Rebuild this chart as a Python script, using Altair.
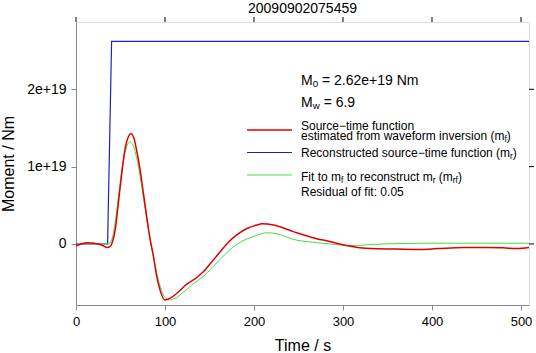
import altair as alt
import pandas as pd

# ---- data (moment in units of 1e19 Nm, time in s) ----
red_t = [0, 6, 13, 20, 25, 30, 35, 38, 41, 44, 47.6, 51.4, 55, 59, 61.5, 65, 68, 72, 75.7, 79.5,
         83, 87, 90.7, 94.5, 100, 106, 113, 124.5, 135, 143, 152, 162, 171, 181, 192, 203, 209,
         222, 244, 265, 286, 304, 331, 360, 387, 406, 435, 460, 480, 496, 509]
red_m = [-0.025, 0.0, 0.015, 0.01, 0.0, -0.02, -0.045, -0.035, 0.03, 0.18, 0.53, 0.91, 1.22, 1.39, 1.43,
         1.37, 1.22, 0.96, 0.66, 0.35, 0.08, -0.16, -0.42, -0.6, -0.725, -0.70, -0.64, -0.52, -0.44,
         -0.36, -0.24, -0.10, 0.02, 0.12, 0.20, 0.245, 0.26, 0.245, 0.16, 0.085, 0.03, -0.02, -0.06,
         -0.065, -0.07, -0.06, -0.045, -0.045, -0.05, -0.06, -0.045]

green_t = [0, 6, 13, 20, 30, 36, 40, 44, 48, 52, 56, 60, 64, 68, 72, 76, 80, 84, 88, 92, 96, 100,
           105, 110, 120, 130, 143, 160, 180, 200, 215, 230, 244, 260, 286, 308, 345, 400, 450, 509]
green_m = [-0.02, 0.0, 0.01, 0.01, 0.0, 0.0, 0.05, 0.28, 0.65, 1.0, 1.22, 1.32, 1.28, 1.12, 0.88,
           0.58, 0.28, 0.02, -0.22, -0.44, -0.6, -0.69, -0.725, -0.71, -0.63, -0.53, -0.42, -0.22,
           -0.01, 0.10, 0.145, 0.12, 0.06, 0.03, 0.0, -0.02, 0.0, 0.01, 0.01, 0.01]

blue_t = [0, 35.5, 40, 509]
blue_m = [0, 0, 2.62, 2.62]

x_ticks = [0, 100, 200, 300, 400, 500]
y_ticks = [0, 1e19, 2e19]
title_text = "20090902075459"

UNIT = 1e19
df_red = pd.DataFrame({"t": red_t, "m": [v * UNIT for v in red_m]})
df_green = pd.DataFrame({"t": green_t, "m": [v * UNIT for v in green_m]})
df_blue = pd.DataFrame({"t": blue_t, "m": [v * UNIT for v in blue_m]})

FONT = "Liberation Sans"
W, H = 453, 283
xscale = alt.Scale(domain=[0, 509], nice=False, zero=False)
yscale = alt.Scale(domain=[-0.789e19, 2.870e19], nice=False, zero=False)

x_main = alt.X("t:Q", scale=xscale,
               axis=alt.Axis(values=x_ticks, title="Time / s", grid=False, tickSize=5,
                             labelPadding=5, titlePadding=9, labelFontSize=13, titleFontSize=16,
                             titleFontWeight="normal", labelFlush=False))
y_main = alt.Y("m:Q", scale=yscale,
               axis=alt.Axis(values=y_ticks, title="Moment / Nm", grid=False, tickSize=5,
                             labelPadding=5, titlePadding=10, labelFontSize=14, titleFontSize=16,
                             titleFontWeight="normal", labelFlush=False,
                             labelExpr="datum.value == 0 ? '0' : format(datum.value, '.0e')"))
x_plain = alt.X("t:Q", scale=xscale)
y_plain = alt.Y("m:Q", scale=yscale)

blue = alt.Chart(df_blue).mark_line(color="#2020b4", strokeWidth=1.2).encode(x=x_main, y=y_main)
green = alt.Chart(df_green).mark_line(color="#44dd44", strokeWidth=1, interpolate="monotone").encode(
    x=x_plain, y=y_plain)
red = alt.Chart(df_red).mark_line(color="#e00000", strokeWidth=1.5, interpolate="monotone").encode(
    x=x_plain, y=y_plain)

# top and right tick marks (mirror axes, no labels)
top_ticks = alt.Chart(pd.DataFrame({"t": x_ticks})).mark_rule(color="black", strokeWidth=1).encode(
    x=x_plain, y=alt.value(-5), y2=alt.value(0))
right_ticks = alt.Chart(pd.DataFrame({"m": y_ticks})).mark_rule(color="black", strokeWidth=1).encode(
    y=y_plain, x=alt.value(W), x2=alt.value(W + 5))

# ---- annotation / manual legend ----
AW = {" ": 278, "(": 333, ")": 333, "+": 584, ".": 278, "/": 278, ":": 278, "=": 584, "\u2212": 584,
      "M": 833, "N": 722, "R": 722, "S": 667, "F": 611,
      "a": 556, "b": 556, "c": 500, "d": 556, "e": 556, "f": 278, "g": 556, "h": 556, "i": 222,
      "k": 500, "l": 222, "m": 833, "n": 556, "o": 556, "p": 556, "r": 333, "s": 500, "t": 278,
      "u": 556, "v": 500, "w": 722, "x": 500, "y": 500}


def width(s, size):
    return sum(AW.get(c, 556) for c in s) * size / 1000.0


dummy = pd.DataFrame({"k": [0]})
layers = []


def text_line(segments, x0, y0, size):
    x = x0
    for txt, sub in segments:
        fs = size * 0.7 if sub else size
        dy = size * 0.28 if sub else 0
        lead = len(txt) - len(txt.lstrip(" "))
        trail = len(txt) - len(txt.rstrip(" "))
        core = txt.strip(" ")
        x += width(" " * lead, fs)
        layers.append(alt.Chart(dummy).mark_text(
            text=core, align="left", baseline="middle", fontSize=fs, font=FONT, color="black", dy=dy
        ).encode(x=alt.value(x), y=alt.value(y0)))
        x += width(core, fs) + width(" " * trail, fs)


TX = 225
text_line([("M", False), ("0", True), (" = 2.62e+19 Nm", False)], TX, 58.5, 14)
text_line([("M", False), ("w", True), (" = 6.9", False)], TX, 80.5, 14)
text_line([("Source\u2212time function", False)], TX, 104, 12)
text_line([("estimated from waveform inversion (m", False), ("f", True), (")", False)], TX, 114, 12)
text_line([("Reconstructed source\u2212time function (m", False), ("r", True), (")", False)], TX, 131, 12)
text_line([("Fit to m", False), ("f", True), (" to reconstruct m", False), ("r", True),
           (" (m", False), ("rf", True), (")", False)], TX, 155, 12)
text_line([("Residual of fit: 0.05", False)], TX, 170, 12)

for col, yy, sw in [("#e00000", 108, 1.5), ("#2020b4", 130.5, 1.2), ("#44dd44", 153, 1)]:
    layers.append(alt.Chart(dummy).mark_rule(color=col, strokeWidth=sw).encode(
        x=alt.value(171), x2=alt.value(216), y=alt.value(yy)))

chart = alt.layer(blue, green, red, top_ticks, right_ticks, *layers).properties(
    width=W, height=H,
    title=alt.Title(title_text, fontSize=14, fontWeight="normal", font=FONT, offset=1, anchor="middle"),
    autosize=alt.AutoSizeParams(type="none"),
    padding={"left": 76, "top": 22, "right": 7, "bottom": 48},
).configure_axis(
    labelFont=FONT, titleFont=FONT, labelColor="black", titleColor="black",
    domainColor="black", tickColor="black", domainWidth=1, tickWidth=1
).configure_view(stroke="black", strokeWidth=1).configure(background="white")

chart.save("out.html", embed_options={"renderer": "svg", "actions": False})
